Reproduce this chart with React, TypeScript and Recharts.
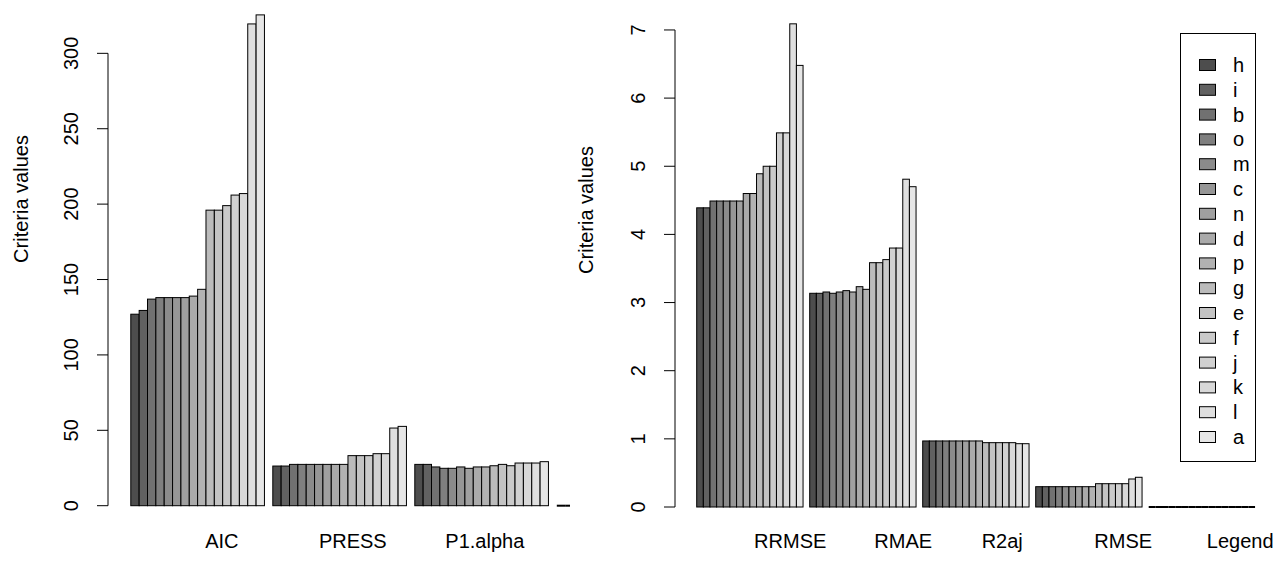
import React from 'react';
import { BarChart, Bar, XAxis, YAxis, Legend } from 'recharts';

// ---- data ----
const models = ['h', 'i', 'b', 'o', 'm', 'c', 'n', 'd', 'p', 'g', 'e', 'f', 'j', 'k', 'l', 'a'];
const greys = ['#4D4D4D', '#616161', '#717171', '#7F7F7F', '#8B8B8B', '#969696', '#A0A0A0', '#AAAAAA',
  '#B2B2B2', '#BBBBBB', '#C3C3C3', '#CACACA', '#D1D1D1', '#D8D8D8', '#DFDFDF', '#E6E6E6'];

const leftCategories = ['AIC', 'PRESS', 'P1.alpha', ''];
const AIC = [127, 129.5, 137, 138, 138, 138, 138, 139, 143.5, 196, 196, 199, 206, 207, 319.5, 325.5];
const PRESS = [26.3, 26.3, 27.4, 27.4, 27.4, 27.4, 27.4, 27.4, 27.4, 33.2, 33.2, 33.2, 34.5, 34.5, 51.5, 52.6];
const P1alpha = [27.4, 27.4, 25.7, 24.8, 24.8, 25.7, 24.8, 25.7, 25.7, 26.5, 27.4, 26.5, 28.3, 28.3, 28.3, 29.2];
const leftBlank = [0, 0, 0, 0, 0, 0, 0, 0, 0, 0, 0, 0, 0, 0, 0, 0];
const leftTicks = [0, 50, 100, 150, 200, 250, 300];

const rightCategories = ['RRMSE', 'RMAE', 'R2aj', 'RMSE', 'Legend'];
const RRMSE = [4.39, 4.39, 4.49, 4.49, 4.49, 4.49, 4.49, 4.6, 4.6, 4.89, 5.0, 5.0, 5.49, 5.49, 7.09, 6.48];
const RMAE = [3.136, 3.136, 3.155, 3.136, 3.155, 3.175, 3.155, 3.233, 3.194, 3.585, 3.585, 3.63, 3.8, 3.8, 4.81, 4.7];
const R2aj = [0.969, 0.969, 0.969, 0.969, 0.969, 0.969, 0.969, 0.969, 0.969, 0.944, 0.944, 0.944, 0.944, 0.944, 0.929, 0.929];
const RMSE = [0.298, 0.298, 0.298, 0.298, 0.298, 0.298, 0.298, 0.298, 0.298, 0.342, 0.342, 0.342, 0.342, 0.342, 0.411, 0.436];
const legendBlank = [0, 0, 0, 0, 0, 0, 0, 0, 0, 0, 0, 0, 0, 0, 0, 0];
const rightTicks = [0, 1, 2, 3, 4, 5, 6, 7];

const buildRows = (cats: string[], values: number[][]) =>
  cats.map((c, gi) => {
    const row: Record<string, any> = { name: c };
    models.forEach((m, mi) => { row[m] = values[gi][mi]; });
    return row;
  });

const leftRows = buildRows(leftCategories, [AIC, PRESS, P1alpha, leftBlank]);
const rightRows = buildRows(rightCategories, [RRMSE, RMAE, R2aj, RMSE, legendBlank]);

// ---- style ----
const FONT = '"Liberation Sans", Arial, Helvetica, sans-serif';
const FS = 20;
const H = 562;

const L = { width: 700, top: 8.1, bottom: 505.7, domainMax: 330, lastTick: 300, labelDx: [24, 13, 3, 0] };
const R = { width: 714, top: 2.7, bottom: 507, domainMax: 7.4, lastTick: 7, labelDx: [40, 40, 26, 34, 38] };

const BarShape = (p: any) => {
  const { x, y, width, height, fill } = p;
  if (!height || Math.abs(height) < 0.5) {
    return <line x1={x} x2={x + width} y1={y} y2={y} stroke="#000" strokeWidth={2} />;
  }
  return <rect x={x} y={y} width={width} height={height} fill={fill} stroke="#000" strokeWidth={1} />;
};

const makeYTick = (cfg: typeof L) => (props: any) => {
  const { x, y, payload, index } = props;
  const axisLen = (cfg.lastTick / cfg.domainMax) * (cfg.bottom - cfg.top);
  const tx = x - 37;
  return (
    <g>
      <line x1={x - 11} x2={x} y1={y} y2={y} stroke="#000" strokeWidth={1} />
      {index === 0 && <line x1={x} x2={x} y1={y} y2={y - axisLen} stroke="#000" strokeWidth={1} />}
      <text x={tx} y={y} dy="0.35em" textAnchor="middle" transform={`rotate(-90 ${tx} ${y})`}
        fontFamily={FONT} fontSize={FS} fill="#000">{payload.value}</text>
    </g>
  );
};

const makeXTick = (cfg: typeof L | typeof R, dyCenter: number) => (props: any) => {
  const { x, y, payload, index } = props;
  return (
    <text x={x + (cfg.labelDx[index] || 0)} y={y + dyCenter} dy="0.35em" textAnchor="middle"
      fontFamily={FONT} fontSize={FS} fill="#000">{payload.value}</text>
  );
};

const yTitle = (x: number, y: number) => () => (
  <text x={x} y={y} dy="0.35em" textAnchor="middle" transform={`rotate(-90 ${x} ${y})`}
    fontFamily={FONT} fontSize={FS} fill="#000">Criteria values</text>
);

const LegendBox = (props: any) => {
  const items = [...(props.payload || [])].sort(
    (a: any, b: any) => models.indexOf(a.value) - models.indexOf(b.value)
  );
  return (
    <svg width={76} height={429} style={{ display: 'block' }}>
      <rect x={0.5} y={0.5} width={75} height={428} fill="#fff" stroke="#000" strokeWidth={1} />
      {items.map((it: any, i: number) => {
        const cy = 32 + i * 24.8;
        return (
          <g key={it.value}>
            <rect x={19.5} y={cy - 5.5} width={16} height={11} fill={it.color} stroke="#000" strokeWidth={1} />
            <text x={53} y={cy} dy="0.35em" fontFamily={FONT} fontSize={FS} fill="#000">{it.value}</text>
          </g>
        );
      })}
    </svg>
  );
};

export default function App() {
  return (
    <div style={{ position: 'absolute', left: 0, top: 0, width: 1284, height: 562, background: '#fff' }}>
      <div style={{ position: 'absolute', left: 0, top: 0, width: 569.5, height: H, overflow: 'hidden' }}>
        <BarChart width={L.width} height={H} data={leftRows} barGap={0} barSize={142 / 17}
          margin={{ top: L.top, right: 5.2, bottom: 0.3, left: 8 }}>
          <XAxis dataKey="name" height={56} axisLine={false} tickLine={false} tickSize={0} tickMargin={0}
            padding={{ left: 18.8, right: 0 }} interval={0} tick={makeXTick(L, 35.3)} />
          <YAxis width={100} domain={[0, L.domainMax]} ticks={leftTicks} axisLine={false} tickLine={false}
            tickSize={0} tickMargin={0} tick={makeYTick(L)} interval={0}
            label={{ content: yTitle(21, 199) }} />
          {models.map((m, i) => (
            <Bar key={m} dataKey={m} name={m} fill={greys[i]} shape={BarShape} isAnimationActive={false} />
          ))}
        </BarChart>
      </div>
      <div style={{ position: 'absolute', left: 570, top: 0, width: R.width, height: H }}>
        <BarChart width={R.width} height={H} data={rightRows} barGap={0} barSize={113 / 17}
          margin={{ top: R.top, right: 25.3, bottom: 0, left: 5 }}>
          <XAxis dataKey="name" height={55} axisLine={false} tickLine={false} tickSize={0} tickMargin={0}
            padding={{ left: 18.7, right: 0 }} interval={0} tick={makeXTick(R, 34)} />
          <YAxis width={100} domain={[0, R.domainMax]} ticks={rightTicks} axisLine={false} tickLine={false}
            tickSize={0} tickMargin={0} tick={makeYTick(R)} interval={0}
            label={{ content: yTitle(16, 210) }} />
          <Legend layout="vertical" align="center" verticalAlign="middle" content={LegendBox}
            wrapperStyle={{ position: 'absolute', left: 1180 - 570, top: 33, width: 76, height: 429 }} />
          {models.map((m, i) => (
            <Bar key={m} dataKey={m} name={m} fill={greys[i]} shape={BarShape} isAnimationActive={false} />
          ))}
        </BarChart>
      </div>
    </div>
  );
}
